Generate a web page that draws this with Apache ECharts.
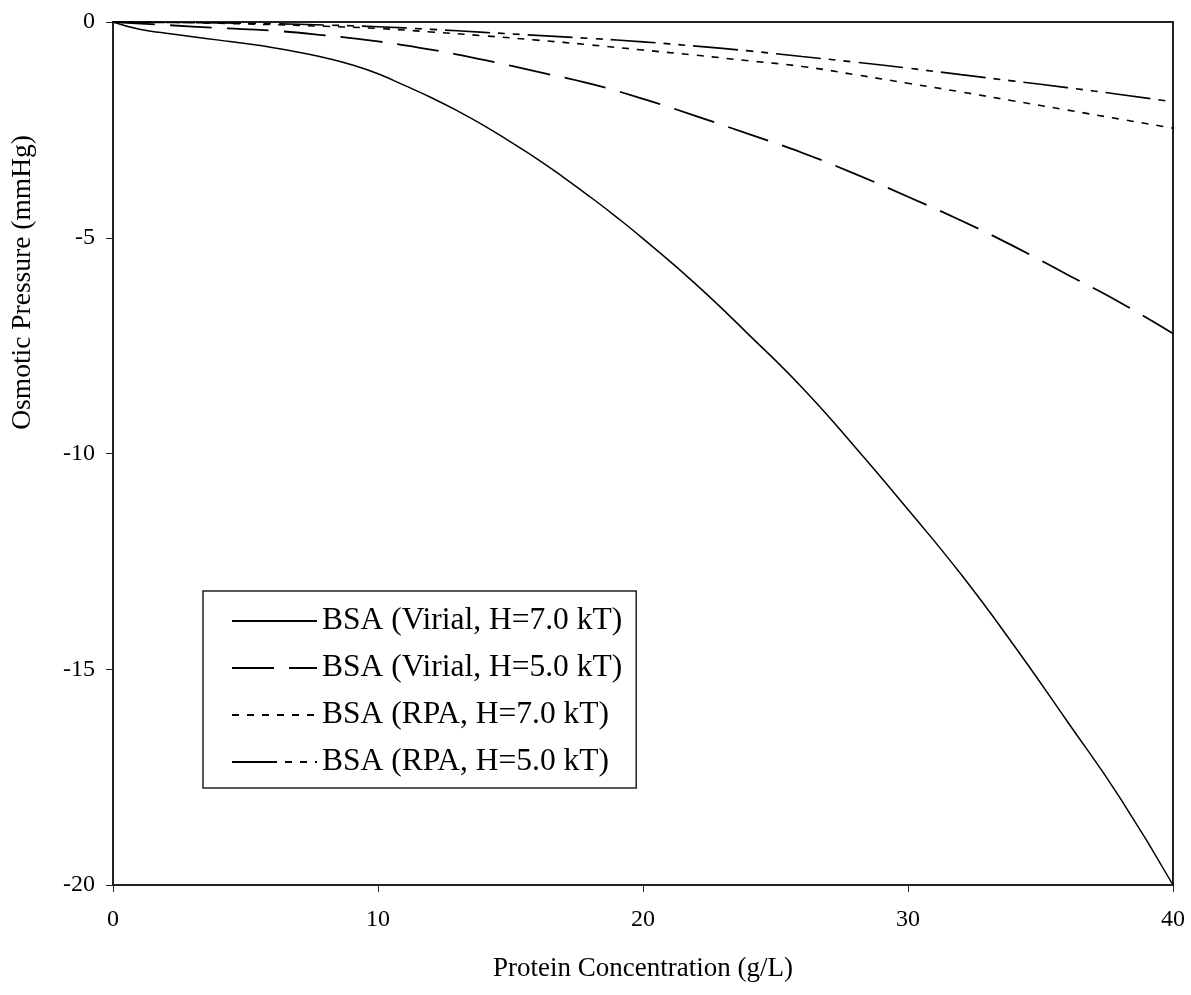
<!DOCTYPE html>
<html>
<head>
<meta charset="utf-8">
<script src="https://cdn.jsdelivr.net/npm/echarts@6/dist/echarts.min.js"></script>
<style>html,body{margin:0;padding:0;background:#fff;}#chart{width:1191px;height:995px;}</style>
</head>
<body>
<div id="chart"></div>
<script>
const seriesNames = ['BSA (Virial, H=7.0 kT)', 'BSA (Virial, H=5.0 kT)', 'BSA (RPA, H=7.0 kT)', 'BSA (RPA, H=5.0 kT)'];
const xTicks = [0, 10, 20, 30, 40];
const yTicks = [0, -5, -10, -15, -20];

const virial7 = [[0,0],[1,-0.17],[2,-0.26],[3,-0.34],[4,-0.42],[5,-0.5],[6,-0.59],[7,-0.7],[8,-0.83],[9,-0.99],[10,-1.2],[11,-1.47],[12,-1.75],[13,-2.06],[14,-2.4],[15,-2.78],[16,-3.17],[17,-3.6],[18,-4.05],[19,-4.52],[20,-5.02],[22,-6.08],[24,-7.25],[26,-8.47],[28,-9.85],[30,-11.3],[32,-12.8],[34,-14.45],[36,-16.2],[38,-17.98],[40,-20.0]];
const virial5 = [[0,0],[2,-0.07],[4,-0.14],[6,-0.2],[8,-0.31],[10,-0.45],[12,-0.64],[14,-0.88],[16,-1.15],[18,-1.43],[20,-1.78],[22,-2.18],[24,-2.6],[26,-3.03],[28,-3.52],[30,-4.05],[32,-4.6],[34,-5.2],[36,-5.85],[38,-6.5],[40,-7.22]];
const rpa7 = [[0,0],[2,-0.01],[4,-0.03],[6,-0.06],[8,-0.1],[10,-0.15],[12,-0.23],[14,-0.32],[16,-0.42],[18,-0.53],[20,-0.65],[22,-0.77],[24,-0.9],[26,-1.03],[28,-1.22],[30,-1.42],[32,-1.62],[34,-1.83],[36,-2.04],[38,-2.25],[40,-2.46]];
const rpa5 = [[0,0],[2,-0.01],[4,-0.02],[6,-0.04],[8,-0.07],[10,-0.11],[12,-0.17],[14,-0.24],[16,-0.31],[18,-0.38],[20,-0.46],[22,-0.56],[24,-0.67],[26,-0.8],[28,-0.93],[30,-1.07],[32,-1.22],[34,-1.37],[36,-1.52],[38,-1.68],[40,-1.85]];

const font = '"Liberation Serif", "Times New Roman", serif';
const chart = echarts.init(document.getElementById('chart'), null, {renderer: 'canvas'});

function mk(name, data, width, dash) {
  return {
    name: name, type: 'line', data: data, symbol: 'none', smooth: true,
    lineStyle: {color: '#000', width: width, type: dash},
    itemStyle: {color: '#000'},
    animation: false
  };
}

chart.setOption({
  animation: false,
  backgroundColor: '#fff',
  grid: {left: 113, right: 18, top: 22, bottom: 110, show: true, borderColor: '#222', borderWidth: 2, backgroundColor: 'transparent'},
  xAxis: {
    type: 'value', min: xTicks[0], max: xTicks[xTicks.length-1], interval: 10,
    axisLine: {show: true, onZero: false, lineStyle: {color: '#222', width: 2}},
    axisTick: {show: true, length: 7, inside: false, lineStyle: {color: '#222', width: 1}},
    axisLabel: {color: '#000', fontSize: 24, fontFamily: font, margin: 23},
    splitLine: {show: false},
    name: 'Protein Concentration (g/L)', nameLocation: 'middle', nameGap: 70,
    nameTextStyle: {color: '#000', fontSize: 27, fontFamily: font}
  },
  yAxis: {
    type: 'value', min: yTicks[yTicks.length-1], max: yTicks[0], interval: 5,
    axisLine: {show: true, onZero: false, lineStyle: {color: '#222', width: 2}},
    axisTick: {show: true, length: 7, inside: false, lineStyle: {color: '#222', width: 1}},
    axisLabel: {color: '#000', fontSize: 24, fontFamily: font, margin: 18},
    splitLine: {show: false}
  },
  graphic: [{
    type: 'text', left: 9, top: 135, rotation: Math.PI / 2,
    style: {text: 'Osmotic Pressure (mmHg)', fill: '#000', font: '27.5px ' + font}
  }],
  legend: {
    orient: 'vertical', left: 203, top: 591,
    data: seriesNames,
    itemWidth: 85, itemHeight: 14, itemGap: 15,
    padding: [14, 14, 10, 28],
    borderColor: '#222', borderWidth: 1.5, backgroundColor: '#fff',
    itemStyle: {color: 'transparent', borderColor: 'transparent', borderWidth: 0, opacity: 0},
    textStyle: {color: '#000', fontSize: 31.5, fontFamily: font, padding: [0, 0, 0, 0]}
  },
  series: [
    mk(seriesNames[0], virial7, 1.5, 'solid'),
    mk(seriesNames[1], virial5, 1.8, [42, 15]),
    mk(seriesNames[2], rpa7, 1.6, [7, 8]),
    mk(seriesNames[3], rpa5, 1.6, [45, 8, 7, 8, 7, 8])
  ]
});
</script>
</body>
</html>
